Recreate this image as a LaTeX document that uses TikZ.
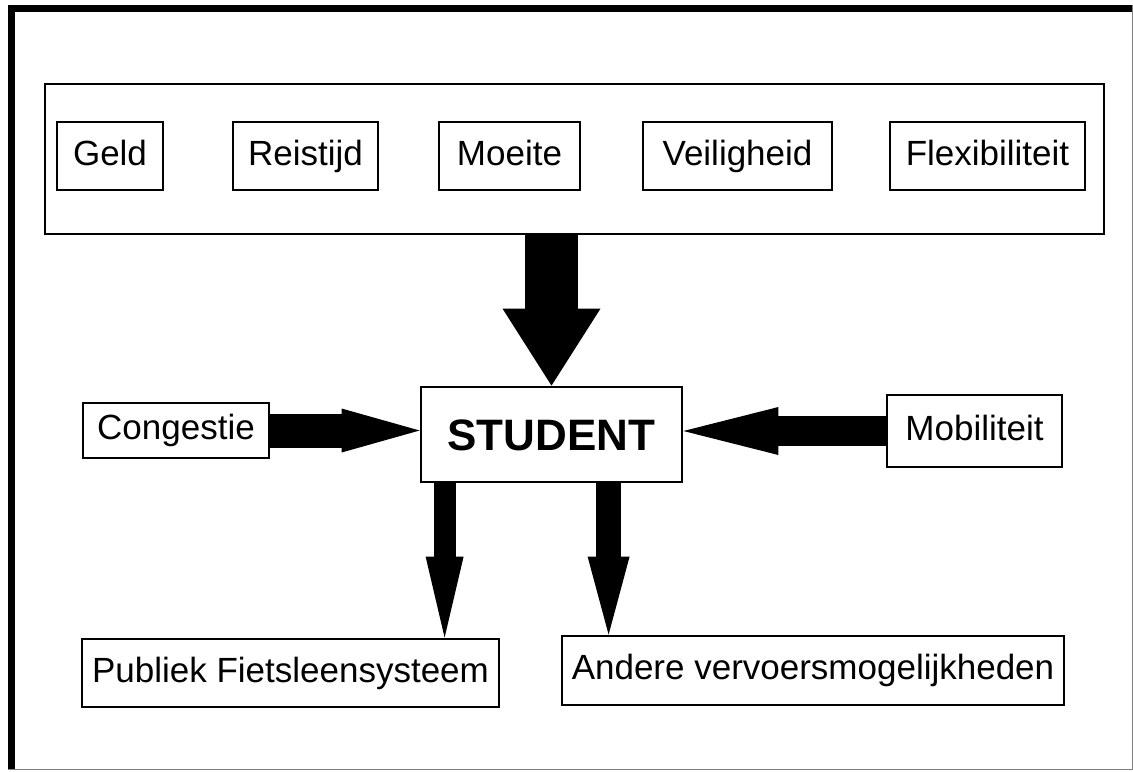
\documentclass[tikz,border=0pt]{standalone}
\usepackage{fontspec}
\setmainfont{Liberation Sans}
\usetikzlibrary{arrows.meta,calc}

\begin{document}
\begin{tikzpicture}[x=0.5pt, y=-0.5pt,
		box/.style={draw, line width=1.4pt, inner sep=0pt, text height=12.5pt, text depth=3.5pt, font=\fontsize{17.5pt}{21pt}\selectfont},
		factor/.style={box, minimum height=34pt},
		blockarrow/.style n args={3}{line width=#1, -{Triangle[length=#2, width=#3, line width=0pt]}}]
		\useasboundingbox (0,0) rectangle (1133,771);
		% frame
		\draw[gray, line width=0.5pt] (8,5) rectangle (1132,769);
		\draw[line width=3.5pt] (1132,8) -- (11,8) -- (11,769);
		
		\node[box, minimum width=529.5pt, minimum height=75pt] at (574.5,159) (factors) {};
		\node[factor, minimum width=53pt] at (110,156) (geld) {Geld};
		\node[factor, minimum width=72.5pt] at (305.5,156) (reistijd) {Reistijd};
		\node[factor, minimum width=70.5pt] at (509.5,156) (moeite) {Moeite};
		\node[factor, minimum width=94.5pt] at (737.5,156) (veiligheid) {Veiligheid};
		\node[factor, minimum width=97.5pt] at (987.5,156) (flex) {Flexibiliteit};
		
		\node[box, minimum width=130.5pt, minimum height=47.5pt, text height=16pt, text depth=0pt, font=\bfseries\fontsize{22pt}{26pt}\selectfont] at (551.5,434.5) (student) {STUDENT};
		\node[box, minimum width=93pt, minimum height=27.5pt] at (176,430.5) (congestie) {Congestie};
		\node[box, minimum width=87.5pt, minimum height=36pt] at (974.5,431) (mobiliteit) {Mobiliteit};
		\node[box, minimum width=208.5pt, minimum height=34pt] at (290.5,673) (fietsleen) {Publiek Fietsleensysteem};
		\node[box, minimum width=251pt, minimum height=34.5pt] at (813,670.5) (andere) {Andere vervoersmogelijkheden};
		
		\coordinate (leftfoot) at ($(student.south west)+(25,0)$);
		\coordinate (rightfoot) at ($(student.south west)+(189,0)$);
		
		\draw[blockarrow={26.5pt}{38.5pt}{49pt}] (factors.south -| student.north) -- (student.north);
		\draw[blockarrow={17pt}{39pt}{22pt}] (congestie.east) -- (student.west |- congestie.east);
		\draw[blockarrow={15pt}{47.5pt}{24pt}] (mobiliteit.west) -- (student.east |- mobiliteit.west);
		\draw[blockarrow={11pt}{40.5pt}{19pt}] (leftfoot) -- (leftfoot |- fietsleen.north);
		\draw[blockarrow={12.5pt}{39pt}{21pt}] (rightfoot) -- (rightfoot |- andere.north);
\end{tikzpicture}
\end{document}
